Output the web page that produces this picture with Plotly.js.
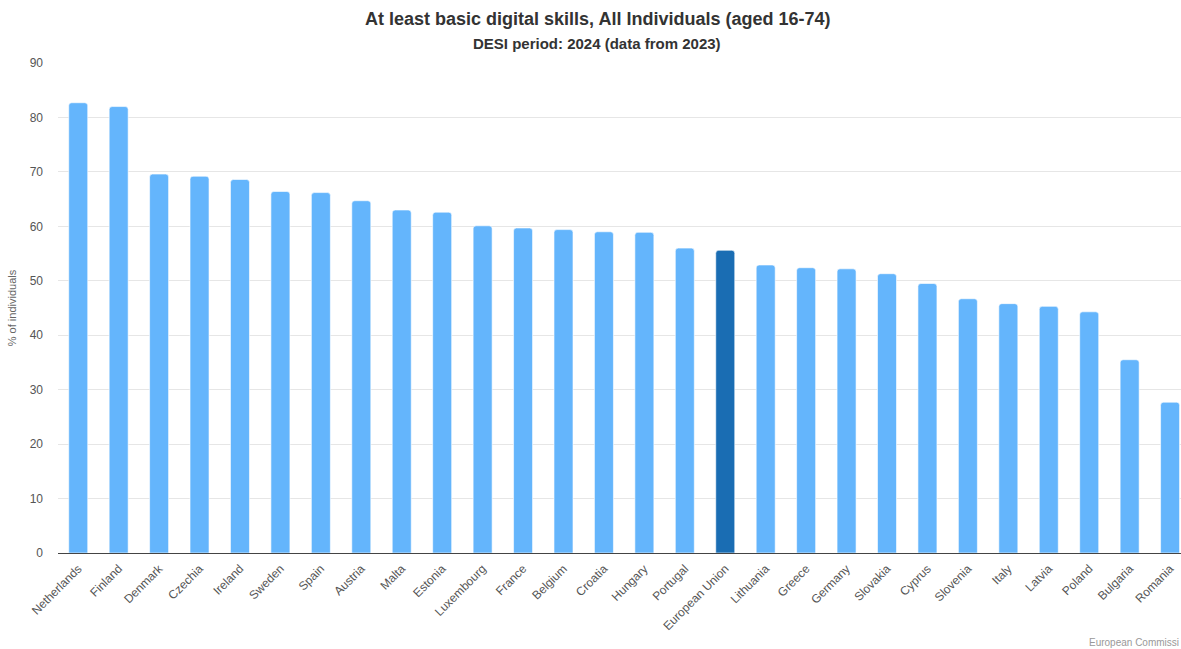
<!DOCTYPE html>
<html>
<head>
<meta charset="utf-8">
<script src="https://cdn.plot.ly/plotly-3.0.1.min.js"></script>
<style>html,body{margin:0;padding:0;background:#fff;}#chart{width:1181px;height:649px;}</style>
</head>
<body>
<div id="chart"></div>
<script>
const countries = ["Netherlands","Finland","Denmark","Czechia","Ireland","Sweden","Spain","Austria","Malta","Estonia","Luxembourg","France","Belgium","Croatia","Hungary","Portugal","European Union","Lithuania","Greece","Germany","Slovakia","Cyprus","Slovenia","Italy","Latvia","Poland","Bulgaria","Romania"];
const values = [82.7,82.0,69.6,69.2,68.6,66.4,66.2,64.7,63.0,62.6,60.1,59.7,59.4,59.0,58.9,56.0,55.6,52.9,52.4,52.2,51.3,49.5,46.7,45.8,45.3,44.3,35.5,27.7];
const highlight = "European Union";
const yTicks = [0,10,20,30,40,50,60,70,80,90];

const colors = countries.map(c => c === highlight ? "#1a6db3" : "#64b5fc");

const trace = {
  type: "bar",
  x: countries,
  y: values,
  marker: {color: colors, cornerradius: 3, line: {color: "rgba(255,255,255,0.6)", width: 1}},
  width: 0.47,
  hoverinfo: "x+y"
};

const layout = {
  width: 1181, height: 649,
  margin: {l: 58, r: 0, t: 63, b: 96},
  paper_bgcolor: "#fff", plot_bgcolor: "#fff",
  font: {family: "Liberation Sans, Arial, sans-serif", color: "#666"},
  showlegend: false,
  bargap: 0.53,
  xaxis: {
    type: "category",
    range: [-0.5, 27.27],
    tickangle: -45,
    tickfont: {size: 12, color: "#555"},
    showline: true, linecolor: "#444", linewidth: 1,
    showgrid: false, ticks: "", automargin: false,
    ticklabelstandoff: 3
  },
  yaxis: {
    range: [0, 90],
    tickvals: yTicks,
    ticktext: yTicks.map(String),
    tickfont: {size: 12, color: "#555"},
    gridcolor: "#e6e6e6", gridwidth: 1,
    zeroline: false, showline: false, ticks: "",
    ticklabelstandoff: 14,
    automargin: false,
    title: {text: "% of individuals", font: {size: 11, color: "#666"}, standoff: 10}
  },
  annotations: [
    {text: "<b>At least basic digital skills, All Individuals (aged 16-74)</b>", xref: "paper", yref: "paper", x: 0.48, y: 1, yshift: 44, xanchor: "center", yanchor: "middle", showarrow: false, font: {size: 18, color: "#333"}},
    {text: "<b>DESI period: 2024 (data from 2023)</b>", xref: "paper", yref: "paper", x: 0.48, y: 1, yshift: 20, xanchor: "center", yanchor: "middle", showarrow: false, font: {size: 15, color: "#333"}},
    {text: "European Commissi", xref: "paper", yref: "paper", x: 1, y: 0, yshift: -89, xanchor: "right", yanchor: "middle", showarrow: false, font: {size: 10, color: "#999"}}
  ]
};

Plotly.newPlot("chart", [trace], layout, {displayModeBar: false, staticPlot: true});
</script>
</body>
</html>
